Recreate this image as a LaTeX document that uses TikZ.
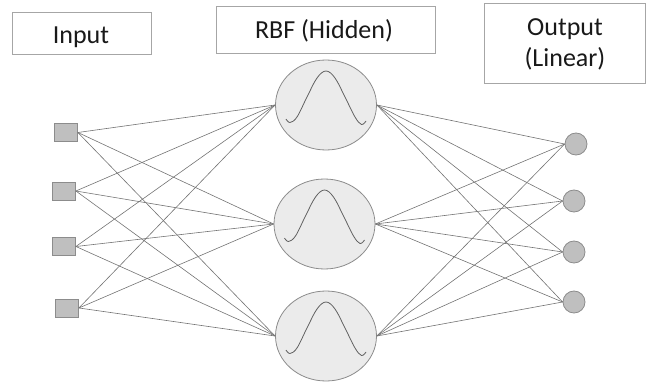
\documentclass[tikz,border=0pt]{standalone}
\usepackage{fontspec}
\setmainfont{Carlito}
\usetikzlibrary{shapes.geometric}
\begin{document}
\begin{tikzpicture}[x=1pt,y=-1pt,
  lbl/.style={draw=black!35, line width=0.8pt, fill=white, inner sep=0pt},
  txt/.style={font=\fontsize{26}{30}\selectfont, anchor=base, inner sep=0pt, text=black!90},
  inp/.style={draw=black!45, fill=black!25, line width=0.8pt, minimum width=23pt, minimum height=18pt, inner sep=0pt},
  hid/.style={ellipse, draw=black!45, fill=black!8, line width=0.8pt, minimum width=101pt, minimum height=90pt, inner sep=0pt},
  outn/.style={circle, draw=black!45, fill=black!25, line width=0.8pt, minimum size=22pt, inner sep=0pt},
  wire/.style={draw=black!55, line width=0.6pt},
  gauss/.style={draw=black!62, line width=0.8pt}
]
\useasboundingbox (0,0) rectangle (651,385);

% label boxes
\node[lbl, minimum width=139.7pt, minimum height=41.7pt] (inbox) at (81.85,33.15) {};
\node[txt] (intxt) at (81,44) {Input};
\node[lbl, minimum width=219pt, minimum height=47pt] (rbfbox) at (325.5,29.5) {};
\node[txt] (rbftxt) at (324,39) {RBF (Hidden)};
\node[lbl, minimum width=161.7pt, minimum height=80.7pt] (outbox) at (564.85,43.35) {};
\node[txt] (outtxt1) at (565,36) {Output};
\node[txt] (outtxt2) at (565,66.5) {(Linear)};

% input nodes
\node[inp] (i1) at (66,132.5) {};
\node[inp] (i2) at (64,191) {};
\node[inp] (i3) at (64,246.5) {};
\node[inp] (i4) at (67,308) {};

% hidden nodes
\node[hid] (h1) at (326,105) {};
\node[hid] (h2) at (324.5,224) {};
\node[hid] (h3) at (326,336) {};

% output nodes
\node[outn] (o1) at (576,144) {};
\node[outn] (o2) at (574,201) {};
\node[outn] (o3) at (574,252) {};
\node[outn] (o4) at (574,302) {};

% connections
\foreach \i in {1,2,3,4}{
  \foreach \h in {1,2,3}{
    \draw[wire] (i\i.east) -- (h\h.west);
    \draw[wire] (h\h.east) -- (o\i.west);
  }
}

% gaussian curves
\foreach \h in {1,2,3}{
  \draw[gauss, shift={(h\h.center)}] plot[smooth, tension=0.6] coordinates
    {(-40,14) (-36,17.5) (-29,12) (-19,-8) (-9,-27) (0,-34) (9,-27) (19,-8) (29,12) (35.5,19.5) (40,16)};
}
\end{tikzpicture}
\end{document}
